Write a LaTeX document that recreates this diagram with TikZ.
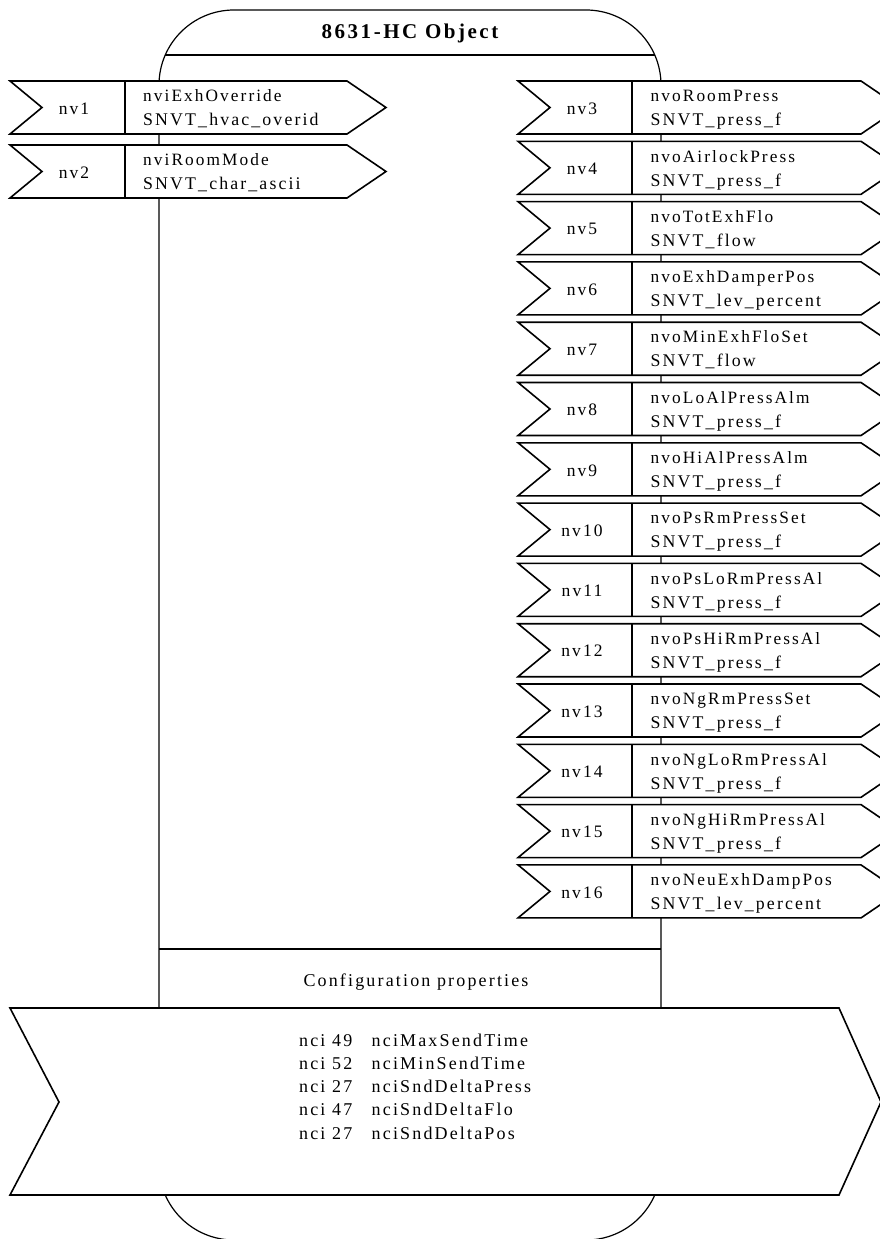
\documentclass[tikz,border=0pt]{standalone}
\usepackage{fontspec}
\setmainfont{Liberation Serif}[LetterSpace=12]
\tikzset{
  objline/.style={line width=1.2pt},
  arrowbox/.style={draw, line width=1.6pt, fill=white, line join=miter},
  divline/.style={line width=1.2pt},
  nvlabel/.style={inner sep=0pt, font=\fontsize{17.5}{20}\selectfont},
  lineone/.style={anchor=base west, inner sep=0pt, font=\fontsize{17.3}{20}\selectfont},
  linetwo/.style={anchor=base west, inner sep=0pt, font=\fontsize{17.8}{20}\selectfont},
}
\begin{document}
\begin{tikzpicture}[x=1pt,y=-1pt]
\useasboundingbox (0,0) rectangle (880,1239);
% object outline
\draw[objline, rounded corners=75pt] (159,10) rectangle (661,1240);
\node[font=\bfseries\fontsize{21}{24}\selectfont, inner sep=0pt] (title) at (410,33) {8631-HC Object};
\draw[objline] (165,55) -- (655,55);
% input variables (left)
\foreach \i/\nm/\ty in {1/nviExhOverride/SNVT\_hvac\_overid, 2/nviRoomMode/SNVT\_char\_ascii}{
  \pgfmathsetmacro\t{81+(\i-1)*64}
  \pgfmathsetmacro\b{\t+53}
  \pgfmathsetmacro\m{\t+26.5}
  \draw[arrowbox] (10,\t) -- (347,\t) -- (386,\m) -- (347,\b) -- (10,\b) -- (42,\m) -- cycle;
  \draw[divline] (125,\t) -- (125,\b);
  \node[nvlabel] (lnv\i) at (74,\m+1) {nv\i};
  \node[lineone] (lname\i) at (143,\t+20.7) {\nm};
  \node[linetwo] (ltype\i) at (143,\t+44.7) {\ty};
}
% output variables (right)
\foreach \i/\nm/\ty in {3/nvoRoomPress/SNVT\_press\_f, 4/nvoAirlockPress/SNVT\_press\_f,
  5/nvoTotExhFlo/SNVT\_flow, 6/nvoExhDamperPos/SNVT\_lev\_percent,
  7/nvoMinExhFloSet/SNVT\_flow, 8/nvoLoAlPressAlm/SNVT\_press\_f,
  9/nvoHiAlPressAlm/SNVT\_press\_f, 10/nvoPsRmPressSet/SNVT\_press\_f,
  11/nvoPsLoRmPressAl/SNVT\_press\_f, 12/nvoPsHiRmPressAl/SNVT\_press\_f,
  13/nvoNgRmPressSet/SNVT\_press\_f, 14/nvoNgLoRmPressAl/SNVT\_press\_f,
  15/nvoNgHiRmPressAl/SNVT\_press\_f, 16/nvoNeuExhDampPos/SNVT\_lev\_percent}{
  \pgfmathsetmacro\t{81+(\i-3)*60.3}
  \pgfmathsetmacro\b{\t+53}
  \pgfmathsetmacro\m{\t+26.5}
  \draw[arrowbox] (518,\t) -- (861,\t) -- (900,\m) -- (861,\b) -- (518,\b) -- (550,\m) -- cycle;
  \draw[divline] (632,\t) -- (632,\b);
  \node[nvlabel] (rnv\i) at (582,\m+1) {nv\i};
  \node[lineone] (rname\i) at (650.5,\t+20.7) {\nm};
  \node[linetwo] (rtype\i) at (650.5,\t+44.7) {\ty};
}
% configuration properties
\draw[objline] (159,949) -- (661,949);
\node[font=\fontsize{18}{20}\selectfont, inner sep=0pt] (cfg) at (416,982) {Configuration properties};
\draw[arrowbox] (10,1008) -- (839,1008) -- (881,1102) -- (839,1195) -- (10,1195) -- (59,1102) -- cycle;
\node[anchor=west, inner sep=0pt, font=\fontsize{18}{23.3}\selectfont] (nci) at (299,1088) {%
\begin{tabular}{@{}p{72.5pt}@{}l@{}}
nci 49 & nciMaxSendTime\\
nci 52 & nciMinSendTime\\
nci 27 & nciSndDeltaPress\\
nci 47 & nciSndDeltaFlo\\
nci 27 & nciSndDeltaPos
\end{tabular}};
\end{tikzpicture}
\end{document}
